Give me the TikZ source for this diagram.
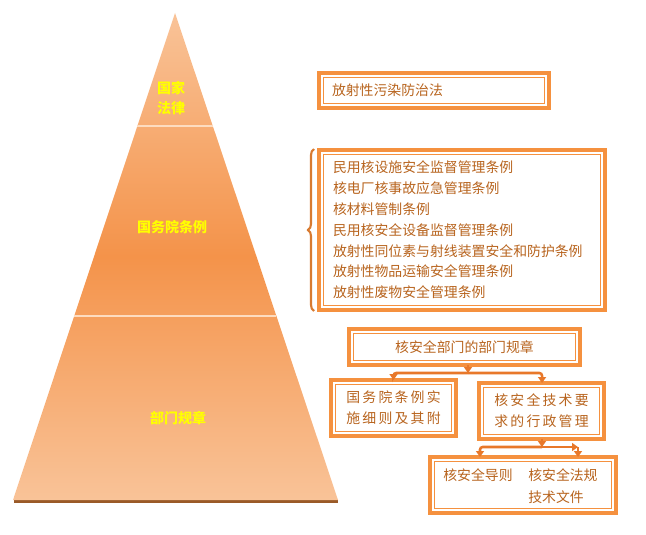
\documentclass[tikz,border=0pt]{standalone}
\usepackage{fontspec}
\setmainfont{Noto Sans CJK SC}
\usetikzlibrary{arrows.meta,decorations.pathreplacing}
\definecolor{boxc}{HTML}{F5913F}
\definecolor{txtc}{HTML}{B8641E}
\definecolor{pyrlight}{HTML}{F9C398}
\definecolor{pyrdark}{HTML}{F4934A}
\definecolor{divc}{HTML}{FDDCC0}
\definecolor{shadowc}{HTML}{9A5A28}
\definecolor{connc}{HTML}{E8782A}
\definecolor{bracec}{HTML}{D87A30}
\definecolor{labc}{HTML}{FFFF00}
\begin{document}
\begin{tikzpicture}[x=0.75pt,y=-0.75pt,
  box/.style={draw=boxc, line width=2.8pt, fill=white, text=txtc, outer sep=0pt, inner sep=0pt,
    font=\fontsize{10.4}{15.6}\selectfont},
  innerline/.style={draw=boxc, line width=0.8pt},
  conn/.style={draw=connc, line width=1.9pt, -{Triangle[width=6pt,length=4.5pt]}},
  pyrlabel/.style={text=labc, font=\bfseries\fontsize{10.5}{15}\selectfont, align=center, inner sep=0pt},
  spaced/.style={font=\fontsize{10.4}{15.75}\selectfont\addfontfeatures{LetterSpace=16}},
  txt/.style={text=txtc, font=\fontsize{10.4}{16.5}\selectfont, inner sep=0pt}
]
\useasboundingbox (0,0) rectangle (646,535);

% pyramid
\coordinate (apex) at (175,13);
\coordinate (bl) at (13,500);
\coordinate (br) at (338,500);
\draw[shadowc, line width=1.6pt] (14,501.5) -- (338,501.5);
\shade[top color=pyrlight, bottom color=pyrlight, middle color=pyrdark] (apex) -- (br) -- (bl) -- cycle;
\draw[divc, line width=2.2pt] (137.4,126) -- (212.8,126);
\draw[divc, line width=2.2pt] (74.2,316) -- (276.4,316);

\node[pyrlabel] (l1) at (171,98) {国家\\法律};
\node[pyrlabel] (l2) at (172,227) {国务院条例};
\node[pyrlabel] (l3) at (178,418) {部门规章};

% boxes
\node[box, minimum width=172.5pt, minimum height=26.25pt, text width=153pt, align=left] (b1) at (434,90.5) {放射性污染防治法};
\node[box, minimum width=214.5pt, minimum height=120pt, text width=193.5pt, align=left] (b2) at (462,230)
  {民用核设施安全监督管理条例\\核电厂核事故应急管理条例\\核材料管制条例\\民用核安全设备监督管理条例\\放射性同位素与射线装置安全和防护条例\\放射性物品运输安全管理条例\\放射性废物安全管理条例};
\node[box, minimum width=173.25pt, minimum height=27pt] (b3) at (464.5,347) {核安全部门的部门规章};
\node[box, spaced, minimum width=93.75pt, minimum height=42pt, align=center] (b4) at (393.5,408) {国务院条例实\\施细则及其附};
\node[box, spaced, minimum width=93.75pt, minimum height=42pt, align=center] (b5) at (541.5,411) {核安全技术要\\求的行政管理};
\node[box, minimum width=139.5pt, minimum height=42pt] (b6) at (523,485) {};
\node[txt] (t6a) at (478,475) {核安全导则};
\node[txt, anchor=west, align=left] (t6b) at (528,486) {核安全法规\\技术文件};

\foreach \b in {b1,b2,b3,b4,b5,b6}
  \draw[innerline] ([shift={(3.3pt,-3.3pt)}]\b.north west) rectangle ([shift={(-3.3pt,3.3pt)}]\b.south east);

% brace
\draw[bracec, line width=1.6pt, decorate, decoration={brace, amplitude=4.5pt}] (314,311) -- (314,149);

% connectors
\coordinate (j1) at (468,373);
\draw[conn] (b3.south -| j1) -- (j1);
\draw[conn, rounded corners=2pt] (j1) -| (b4.north);
\draw[conn, rounded corners=2pt] (j1) -| ([xshift=0.4pt]b5.north);

\coordinate (j2) at (542,447);
\coordinate (l6) at (480,457);
\coordinate (r6) at (578,457);
\coordinate (rc) at (578,447);
\draw[conn] (b5.south -| j2) -- (j2);
\draw[conn, rounded corners=2pt] (j2) -| (l6);
\draw[conn] (j2) -- (rc);
\draw[conn] (rc) -- (r6);
\end{tikzpicture}
\end{document}
